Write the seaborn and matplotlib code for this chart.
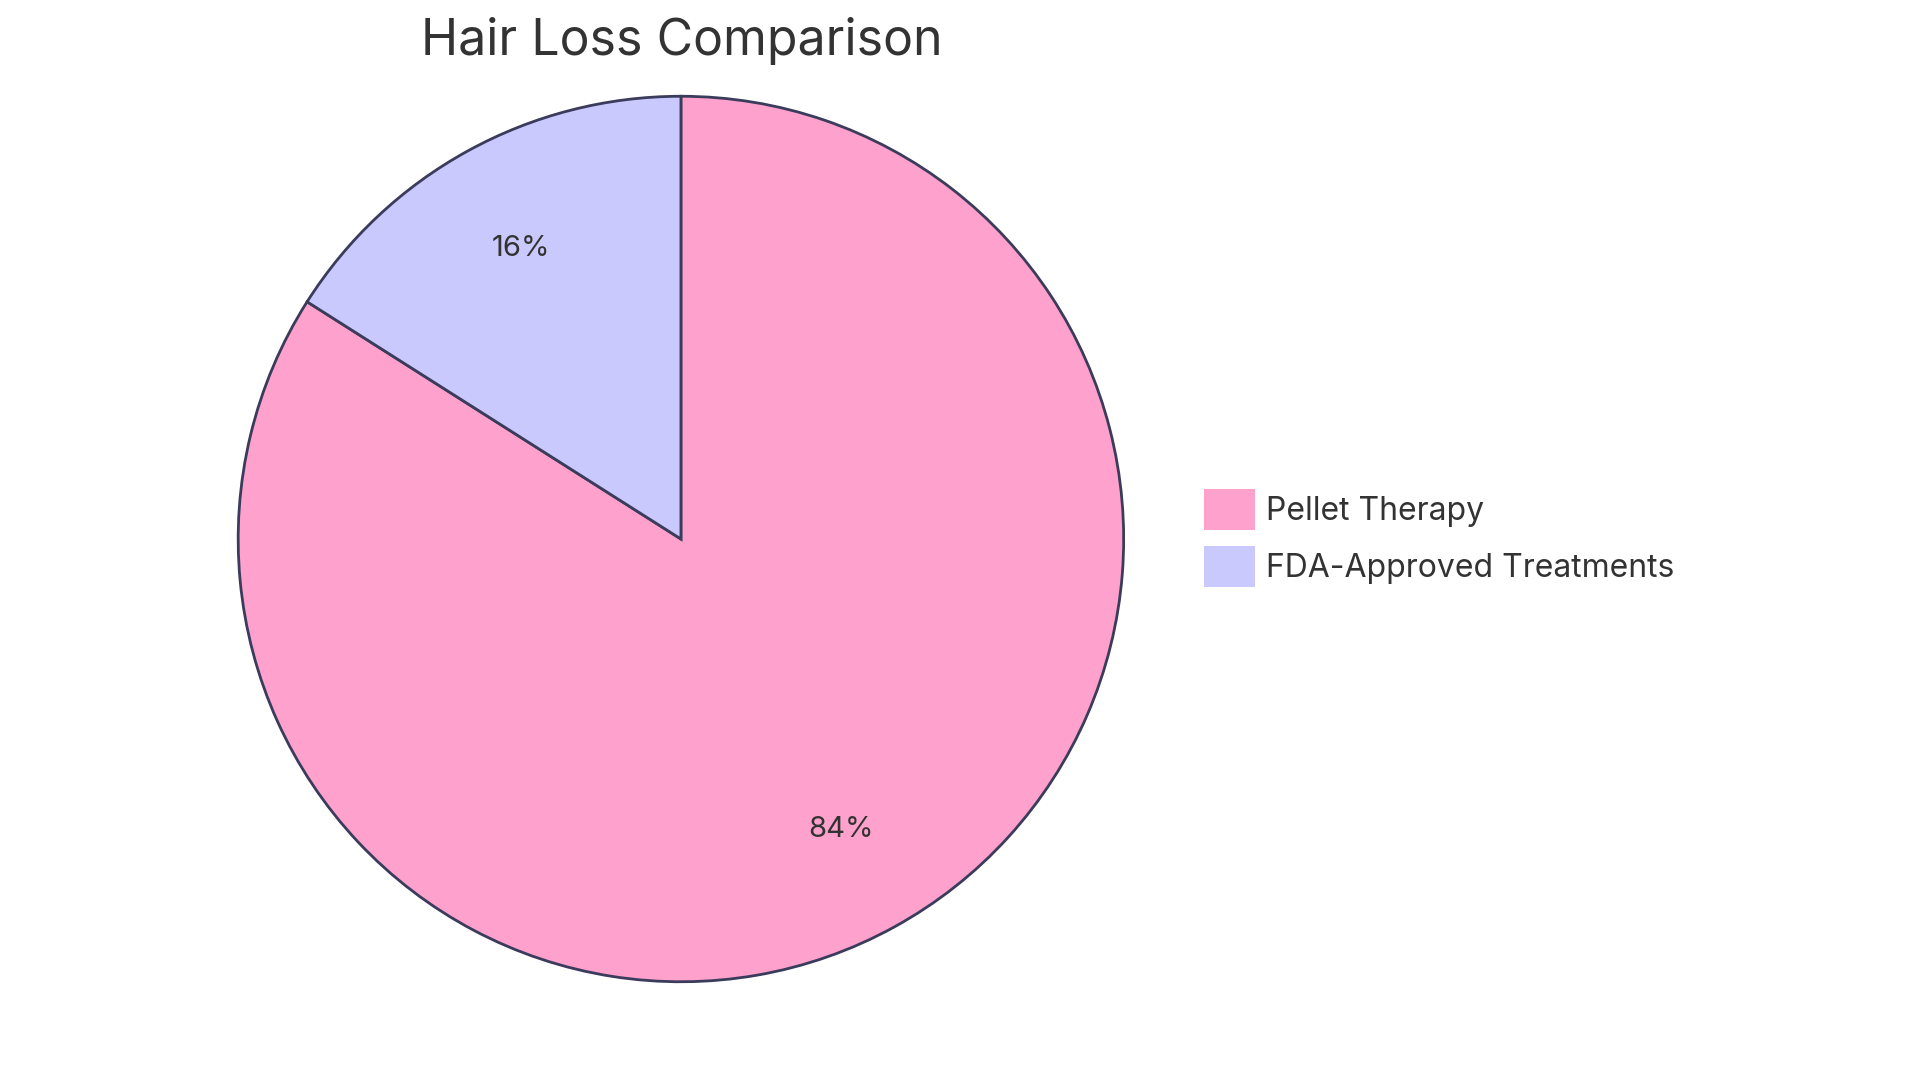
import matplotlib
matplotlib.use("Agg")
import matplotlib.pyplot as plt
import seaborn as sns
from matplotlib.patches import Patch

sns.set_theme(style="white")
plt.rcParams['font.family'] = ['Inter', 'DejaVu Sans']

categories = ["Pellet Therapy", "FDA-Approved Treatments"]
values = [84, 16]
colors = ["#FEA1CD", "#C9C9FE"]
edge = "#3B3B5C"
text_color = "#333333"

fig = plt.figure(figsize=(19.2, 10.83), dpi=100)
ax = fig.add_axes([0.3547 - 0.2318, 0.5023 - 0.4109, 0.4635, 0.8218])
ax.pie(values, colors=colors, startangle=90, counterclock=False,
       autopct=lambda p: f"{p:.0f}%", pctdistance=0.75,
       wedgeprops=dict(edgecolor=edge, linewidth=2),
       textprops=dict(fontsize=21, color=text_color))
ax.set_aspect('equal')
ax.set_xlim(-1.005, 1.005)
ax.set_ylim(-1.005, 1.005)

fig.text(0.355, 0.962, "Hair Loss Comparison", ha='center', va='center',
         fontsize=36, color=text_color)

handles = [Patch(facecolor=c, edgecolor='none') for c in colors]
fig.legend(handles, categories, loc='upper left', bbox_to_anchor=(0.612, 0.575),
           frameon=False, fontsize=23, handlelength=1.6, handleheight=1.6,
           handletextpad=0.35, labelspacing=0.5, labelcolor=text_color)

fig.savefig("out.png", dpi=100, facecolor='white')
